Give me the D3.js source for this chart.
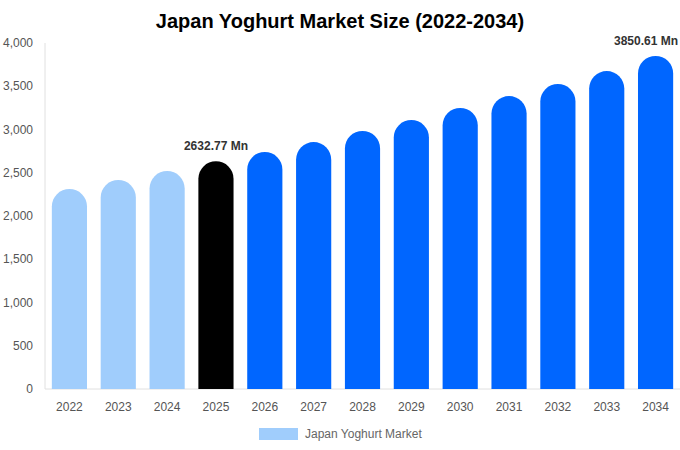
<!DOCTYPE html>
<html><head><meta charset="utf-8">
<script src="https://cdn.jsdelivr.net/npm/d3@7"></script>
<style>body{margin:0;background:#fff}text{font-family:"Liberation Sans",Arial,sans-serif}</style>
</head><body><svg id="c" width="680" height="450"></svg>
<script>
const years=["2022","2023","2024","2025","2026","2027","2028","2029","2030","2031","2032","2033","2034"];
const values=[2312,2416,2520,2632.77,2740,2855,2983,3110,3249,3387,3526,3676,3850.61];
const colors=["#a0cdfc","#a0cdfc","#a0cdfc","#000000","#0066ff","#0066ff","#0066ff","#0066ff","#0066ff","#0066ff","#0066ff","#0066ff","#0066ff"];
const yTicks=[0,500,1000,1500,2000,2500,3000,3500,4000];
const labels={3:"2632.77 Mn",12:"3850.61 Mn"};
const svg=d3.select("#c");
const L=45,R=680,T=43,B=389;
const x=d3.scaleBand().domain(years).range([L,R]).paddingInner(0.28).paddingOuter(0.14);
const y=d3.scaleLinear().domain([0,4000]).range([B,T]);
svg.append("text").attr("x",340).attr("y",28).attr("text-anchor","middle").attr("font-size",20).attr("font-weight","bold").text("Japan Yoghurt Market Size (2022-2034)");
svg.append("line").attr("x1",L).attr("x2",L).attr("y1",T).attr("y2",B).attr("stroke","#e0e0e0");
svg.append("line").attr("x1",L).attr("x2",R).attr("y1",B).attr("y2",B).attr("stroke","#e0e0e0");
svg.selectAll(".yt").data(yTicks).join("text").attr("x",L-12).attr("y",d=>y(d)+4).attr("text-anchor","end").attr("font-size",12).attr("fill","#555").text(d=>d3.format(",")(d));
svg.selectAll(".xt").data(years).join("text").attr("x",d=>x(d)+x.bandwidth()/2).attr("y",411).attr("text-anchor","middle").attr("font-size",12).attr("fill","#555").text(d=>d);
const bw=x.bandwidth(),r=bw/2;
svg.selectAll(".bar").data(values).join("path").attr("fill",(d,i)=>colors[i]).attr("d",(d,i)=>{
  const x0=x(years[i]),yt=y(d);
  return `M${x0},${B}V${yt+r}A${r},${r} 0 0 1 ${x0+bw},${yt+r}V${B}Z`;
});
Object.entries(labels).forEach(([i,t])=>{
  const cx=x(years[i])+bw/2;
  const last=+i===years.length-1;
  svg.append("text").attr("x",last?678:cx).attr("y",y(values[i])-11).attr("text-anchor",last?"end":"middle").attr("font-size",12).attr("font-weight","bold").attr("fill","#333").text(t);
});
svg.append("rect").attr("x",259).attr("y",428).attr("width",39).attr("height",12).attr("fill","#a0cdfc");
svg.append("text").attr("x",305).attr("y",438).attr("font-size",12).attr("fill","#666").text("Japan Yoghurt Market");
</script></body></html>
